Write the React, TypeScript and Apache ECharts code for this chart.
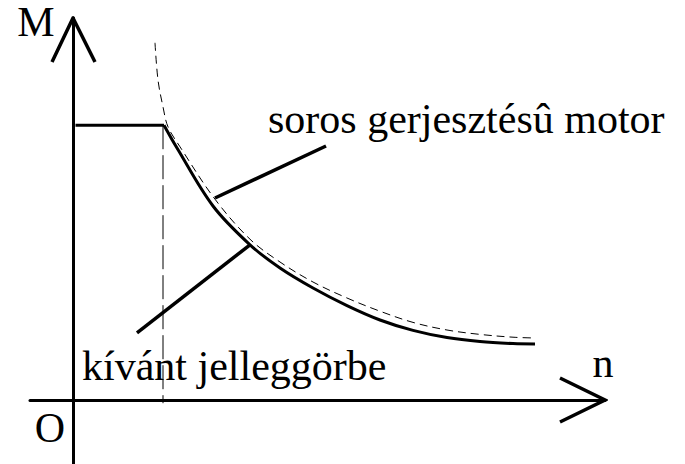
import React, { useEffect, useRef } from "react";
import * as echarts from "echarts";

// Axis ranges (n: speed, M: torque), arbitrary units
const nRange = [-0.86, 10.64];
const mRange = [-1.6, 9.55];

// "kívánt jelleggörbe" – required characteristic (flat part + curve)
const flatN = [0.05, 1.82];
const flatM = [6.87, 6.87];
const kivantN = [1.82, 2.08, 2.8, 3.54, 4.14, 4.8, 5.48, 6.14, 6.8, 7.48, 8.14, 8.8, 9.24];
const kivantM = [6.87, 6.3, 4.85, 3.88, 3.3, 2.8, 2.36, 2.0, 1.74, 1.56, 1.46, 1.41, 1.4];

// "soros gerjesztésû motor" – series-wound motor (dashed)
const sorosN = [1.64, 1.7, 1.8, 1.9, 2.14, 2.84, 3.54, 4.14, 4.8, 5.48, 6.14, 6.8, 7.48, 8.14, 8.8, 9.24];
const sorosM = [8.93, 8.0, 7.33, 6.83, 6.33, 5.02, 4.02, 3.45, 2.95, 2.55, 2.22, 1.94, 1.75, 1.64, 1.57, 1.55];

// vertical dashed guide at the corner speed
const guideN = [1.8, 1.8];
const guideM = [6.87, -0.08];

// leader lines to labels
const leader1N = [2.84, 5.06];
const leader1M = [5.05, 6.35];
const leader2N = [3.54, 1.28];
const leader2M = [3.88, 1.68];

// axis arrow heads (open chevrons)
const arrowXN = [9.74, 10.64, 9.74];
const arrowXM = [0.55, 0, -0.55];
const arrowYN = [-0.42, 0, 0.44];
const arrowYM = [8.45, 9.55, 8.45];

const labels = {
  m: "M",
  n: "n",
  o: "O",
  soros: "soros gerjesztésû motor",
  kivant: "kívánt jelleggörbe",
};

const zip = (a: number[], b: number[]) => a.map((v, i) => [v, b[i]]);

const fontFamily = "Liberation Serif";

export default function App() {
  const ref = useRef<HTMLDivElement>(null);
  useEffect(() => {
    document.body.style.margin = "0";
    if (!ref.current) return;
    const chart = echarts.init(ref.current, undefined, { renderer: "svg" });
    const lineBase = (data: number[][], width: number, type: any, smooth: any = false) => ({
      type: "line",
      data,
      symbol: "none",
      smooth,
      silent: true,
      lineStyle: { color: "#000", width, type, cap: "butt", join: "miter" },
    });
    const textStyle = { fill: "#000", fontSize: 42, fontFamily };
    chart.setOption({
      animation: false,
      backgroundColor: "#fff",
      textStyle: { fontFamily },
      grid: { left: 30, right: 80, top: 18, bottom: 0 },
      xAxis: {
        type: "value",
        min: nRange[0],
        max: nRange[1],
        axisLine: { show: true, onZero: true, lineStyle: { color: "#000", width: 3 } },
        axisTick: { show: false },
        axisLabel: { show: false },
        splitLine: { show: false },
      },
      yAxis: {
        type: "value",
        min: mRange[0],
        max: mRange[1],
        axisLine: { show: true, onZero: true, lineStyle: { color: "#000", width: 3 } },
        axisTick: { show: false },
        axisLabel: { show: false },
        splitLine: { show: false },
      },
      series: [
        lineBase(zip(guideN, guideM), 1, [24, 6]),
        lineBase(zip(sorosN, sorosM), 1, [8, 5], 0.35),
        lineBase(zip(flatN, flatM), 3, "solid"),
        lineBase(zip(kivantN, kivantM), 3, "solid", 0.35),
        lineBase(zip(leader1N, leader1M), 3.5, "solid"),
        lineBase(zip(leader2N, leader2M), 3.5, "solid"),
        lineBase(zip(arrowXN, arrowXM), 3.5, "solid"),
        lineBase(zip(arrowYN, arrowYM), 3.5, "solid"),
      ],
      graphic: [
        { type: "text", x: 36, y: 22, style: { ...textStyle, text: labels.m, align: "center", verticalAlign: "middle" } },
        { type: "text", x: 50, y: 428, style: { ...textStyle, text: labels.o, align: "center", verticalAlign: "middle" } },
        { type: "text", x: 603, y: 363, style: { ...textStyle, text: labels.n, align: "center", verticalAlign: "middle" } },
        { type: "text", x: 268, y: 119, style: { ...textStyle, text: labels.soros, align: "left", verticalAlign: "middle" } },
        { type: "text", x: 82, y: 366, style: { ...textStyle, text: labels.kivant, align: "left", verticalAlign: "middle" } },
      ],
    });
    return () => chart.dispose();
  }, []);
  return <div ref={ref} style={{ width: 685, height: 464 }} />;
}
